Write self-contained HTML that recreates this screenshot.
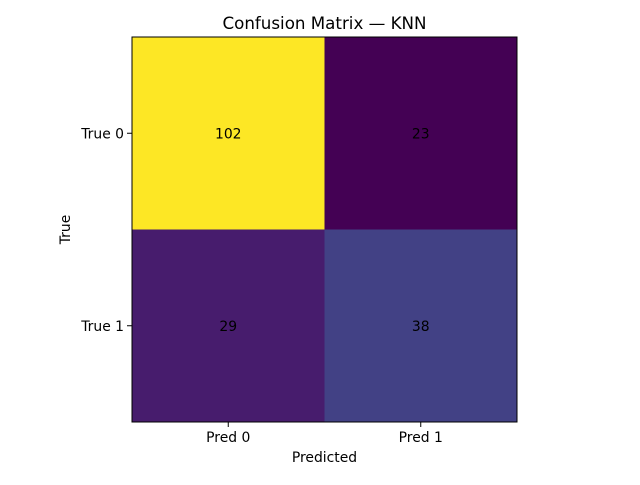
<!DOCTYPE html>
<html><head><meta charset="utf-8"><style>
body{margin:0;background:#fff;font-family:"Liberation Sans","DejaVu Sans",sans-serif}
svg text{font-family:"DejaVu Sans","Liberation Sans",sans-serif}
</style></head><body>
<svg id="chart" width="640" height="480" viewBox="0 0 640 480" xmlns="http://www.w3.org/2000/svg">
<rect width="640" height="480" fill="#fff"/>
<text x="324.5" y="29" font-size="16.7" text-anchor="middle">Confusion Matrix — KNN</text>
<g id="cells"></g>
<g id="ticks"></g>
<rect x="132" y="37" width="385" height="385" fill="none" stroke="#000" stroke-width="1"/>
<text x="324.5" y="462" font-size="13.9" text-anchor="middle">Predicted</text>
<text x="70" y="229.5" font-size="13.9" text-anchor="middle" transform="rotate(-90 70 229.5)">True</text>
</svg>
<script>
const rowLabels = ["True 0", "True 1"];
const colLabels = ["Pred 0", "Pred 1"];
const row0 = [102, 23];
const row1 = [29, 38];
const matrix = [row0, row1];

const viridis = ["#440154","#482475","#414487","#355f8d","#2a788e","#21918c","#22a884","#44bf70","#7ad151","#bddf26","#fde725"];
function hex(c){return [1,3,5].map(i=>parseInt(c.substr(i,2),16));}
function cmap(t){t=Math.max(0,Math.min(1,t));const p=t*10,i=Math.min(9,Math.floor(p)),f=p-i;
 const a=hex(viridis[i]),b=hex(viridis[i+1]);return "rgb("+a.map((v,k)=>Math.round(v+(b[k]-v)*f)).join(",")+")";}
const X0=132,Y0=37,W=385,H=385;
const nR=rowLabels.length,nC=colLabels.length;
const cw=W/nC,ch=H/nR;
const xCenter=j=>X0+cw*(j+0.5), yCenter=i=>Y0+ch*(i+0.5);
const all=matrix.flat(),mn=Math.min(...all),mx=Math.max(...all);
const NS="http://www.w3.org/2000/svg";
const cells=document.getElementById("cells"),ticks=document.getElementById("ticks");
function mk(tag,attrs,parent){const e=document.createElementNS(NS,tag);for(const k in attrs)e.setAttribute(k,attrs[k]);parent.appendChild(e);return e;}
matrix.forEach((row,i)=>row.forEach((v,j)=>{
 const r=mk("rect",{x:X0+cw*j,y:Y0+ch*i,width:cw+0.5,height:ch+0.5,fill:cmap((v-mn)/(mx-mn))},cells);
 
 
 const t=mk("text",{x:xCenter(j),y:yCenter(i)+5,"font-size":13.9,"text-anchor":"middle",fill:"#000"},cells);
 t.textContent=v;
 
 
}));
colLabels.forEach((l,j)=>{
 mk("line",{x1:xCenter(j),x2:xCenter(j),y1:Y0+H,y2:Y0+H+5,stroke:"#000"},ticks);
 const t=mk("text",{x:xCenter(j),y:Y0+H+20,"font-size":13.9,"text-anchor":"middle"},ticks);
 t.textContent=l;
 
 
});
rowLabels.forEach((l,i)=>{
 mk("line",{x1:X0-5,x2:X0,y1:yCenter(i),y2:yCenter(i),stroke:"#000"},ticks);
 const t=mk("text",{x:X0-8,y:yCenter(i)+5,"font-size":13.9,"text-anchor":"end"},ticks);
 t.textContent=l;
 
 
});
</script>
</body></html>
